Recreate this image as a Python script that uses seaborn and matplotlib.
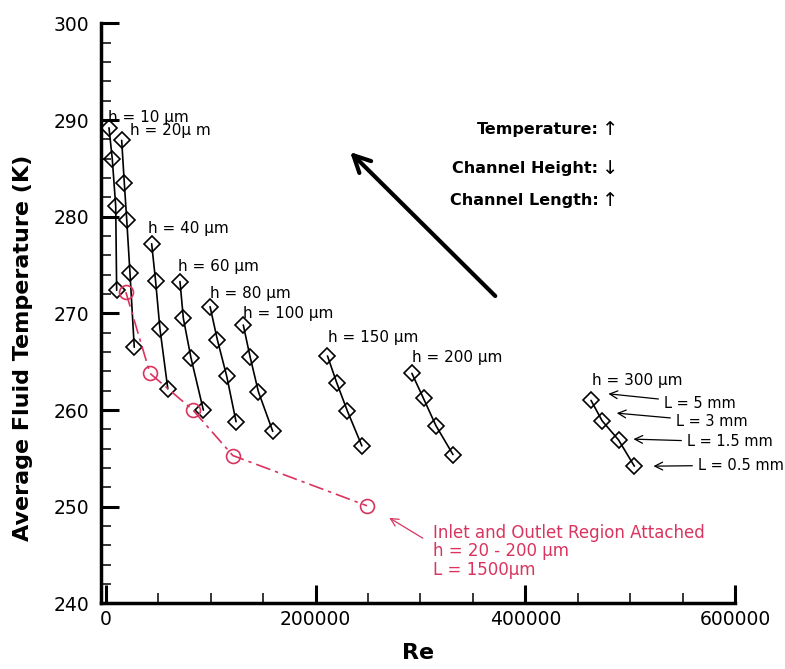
import matplotlib
matplotlib.use("Agg")
import matplotlib.pyplot as plt
from matplotlib.ticker import MultipleLocator
import seaborn as sns
import pandas as pd

# channel heights in micrometres, one curve each (L = 5, 3, 1.5, 0.5 mm from top to bottom)
heights = [10, 20, 40, 60, 80, 100, 150, 200, 300]

re_h10 = [2900, 6000, 9300, 10200]
t_h10 = [289.2, 286.0, 281.1, 272.4]
re_h20 = [15000, 17500, 19800, 22900, 27000]
t_h20 = [287.9, 283.5, 279.7, 274.2, 266.5]
re_h40 = [43600, 47300, 51500, 59000]
t_h40 = [277.2, 273.4, 268.4, 262.2]
re_h60 = [70600, 73800, 81100, 92900]
t_h60 = [273.3, 269.5, 265.4, 260.0]
re_h80 = [99300, 106200, 115200, 124100]
t_h80 = [270.7, 267.3, 263.5, 258.8]
re_h100 = [131000, 137500, 145400, 159100]
t_h100 = [268.8, 265.5, 261.9, 257.8]
re_h150 = [211300, 220200, 230300, 244100]
t_h150 = [265.6, 262.8, 259.9, 256.3]
re_h200 = [291800, 302900, 314700, 331000]
t_h200 = [263.8, 261.2, 258.4, 255.4]
re_h300 = [462700, 473200, 489000, 504000]
t_h300 = [261.0, 258.9, 256.9, 254.2]

# inlet and outlet region attached, L = 1500 um
re_attached = [19000, 42000, 83000, 121000, 249000]
t_attached = [272.2, 263.8, 260.0, 255.3, 250.1]

h_labels = ["h = 10 μm", "h = 20μ m", "h = 40 μm", "h = 60 μm", "h = 80 μm",
            "h = 100 μm", "h = 150 μm", "h = 200 μm", "h = 300 μm"]
l_labels = ["L = 5 mm", "L = 3 mm", "L = 1.5 mm", "L = 0.5 mm"]
xtick_vals = [0, 200000, 400000, 600000]
xtick_labels = ["0", "200000", "400000", "600000"]
ytick_vals = [240, 250, 260, 270, 280, 290, 300]

all_re = [re_h10, re_h20, re_h40, re_h60, re_h80, re_h100, re_h150, re_h200, re_h300]
all_t = [t_h10, t_h20, t_h40, t_h60, t_h80, t_h100, t_h150, t_h200, t_h300]

df = pd.concat([pd.DataFrame({"Re": r, "T": t, "h": h})
                for h, r, t in zip(heights, all_re, all_t)], ignore_index=True)

sns.set_style("ticks")
plt.rcParams["font.family"] = ["DejaVu Sans"]
for key in ["text.color", "axes.labelcolor", "xtick.color", "ytick.color", "axes.edgecolor"]:
    plt.rcParams[key] = "black"

red = "#d9345f"

fig = plt.figure(figsize=(7.85, 6.69), dpi=100)
ax = fig.add_axes([0.1283, 0.098, 0.808, 0.867])

sns.lineplot(data=df, x="Re", y="T", units="h", estimator=None, sort=False,
             color="black", lw=1.2, marker="D", markersize=8,
             markerfacecolor="none", markeredgecolor="black", markeredgewidth=1.2, ax=ax)
sns.lineplot(x=re_attached, y=t_attached, sort=False, color=red, lw=1.2,
             linestyle=(0, (9, 3, 2, 3)), marker="o", markersize=10,
             markerfacecolor="none", markeredgecolor=red, markeredgewidth=1.2, ax=ax)

ax.set_xlim(-5000, 600000)
ax.set_ylim(240, 300)
ax.set_xticks(xtick_vals)
ax.set_xticklabels(xtick_labels)
ax.set_yticks(ytick_vals)
ax.xaxis.set_minor_locator(MultipleLocator(50000))
ax.yaxis.set_minor_locator(MultipleLocator(2))
ax.tick_params(which="major", direction="in", length=13, width=2.2, labelsize=13.5, pad=5)
ax.tick_params(axis="y", which="major", pad=8)
ax.tick_params(which="minor", direction="in", length=7, width=1.1)
for s in ["left", "bottom"]:
    ax.spines[s].set_linewidth(2.5)
sns.despine(ax=ax)

ax.set_xlabel("Re", fontsize=16, fontweight="bold")
ax.set_ylabel("Average Fluid Temperature (K)", fontsize=16, fontweight="bold")
ax.xaxis.set_label_coords(0.5, -0.068)
ax.yaxis.set_label_coords(-0.106, 0.44)

# h labels
label_pos = [(1900, 290.3), (22900, 288.9), (40100, 278.8), (68700, 274.9), (99300, 272.1),
             (130800, 270.0), (211900, 267.5), (292100, 265.4), (463900, 263.1)]
for txt, (x, y) in zip(h_labels, label_pos):
    ax.text(x, y, txt, fontsize=11, ha="left", va="center")

# L labels with arrows pointing at the h = 300 points
l_text = [(532700, 260.7), (544100, 258.8), (554600, 256.7), (565100, 254.3)]
l_tips = [(477900, 261.7), (485900, 259.7), (501800, 257.0), (520900, 254.2)]
for txt, (x, y), tip in zip(l_labels, l_text, l_tips):
    ax.annotate(txt, xy=tip, xytext=(x, y), fontsize=10.5, ha="left", va="center",
                arrowprops=dict(arrowstyle="->", color="black", lw=0.9,
                                shrinkA=2, shrinkB=1, mutation_scale=14))

# red annotation
ax.annotate("", xy=(268000, 249.0), xytext=(304500, 246.6),
            arrowprops=dict(arrowstyle="->", color=red, lw=0.9, mutation_scale=14))
for txt, y in zip(["Inlet and Outlet Region Attached", "h = 20 - 200 μm", "L = 1500μm"],
                  [247.3, 245.4, 243.5]):
    ax.text(312200, y, txt, color=red, fontsize=12, ha="left", va="center")

# trend legend
for txt, sym, y in zip(["Temperature:", "Channel Height:", "Channel Length:"],
                       ["↑", "↓", "↑"], [289.0, 285.0, 281.7]):
    ax.text(469700, y, txt, fontsize=11.5, fontweight="bold", ha="right", va="center")
    ax.text(473500, y, sym, fontsize=14, ha="left", va="center")

ax.annotate("", xy=(231000, 286.9), xytext=(373200, 271.6),
            arrowprops=dict(arrowstyle="->", color="black", lw=3, mutation_scale=30))

fig.savefig("out.png", dpi=100)
